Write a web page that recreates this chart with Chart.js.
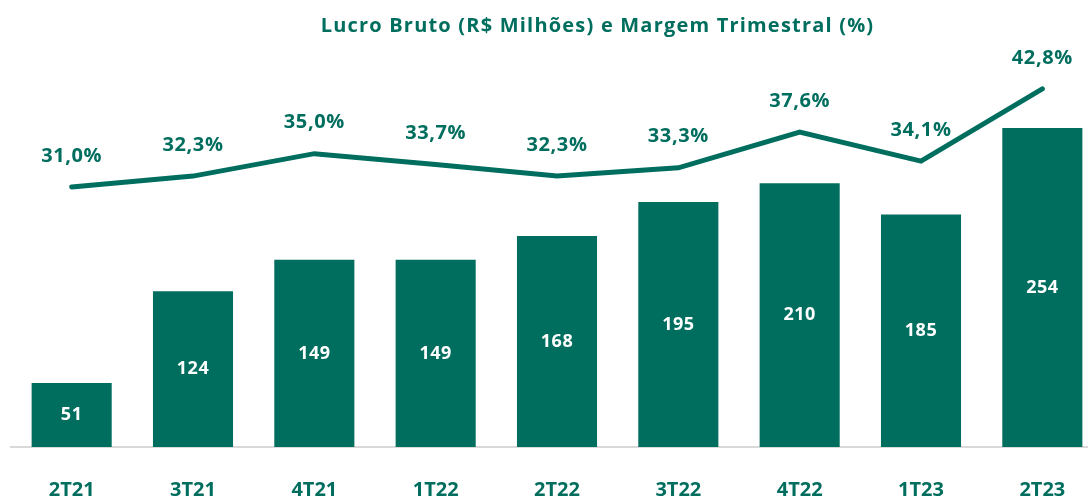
<!DOCTYPE html>
<html>
<head>
<meta charset="utf-8">
<script src="https://cdn.jsdelivr.net/npm/chart.js@4"></script>
<style>
  html, body { margin: 0; padding: 0; background: #fff; overflow: hidden; }
  #wrap { position: relative; width: 1103px; height: 499px; }
  #title {
    position: absolute; left: 0; width: 1195px; top: 11px; text-align: center;
    font: 700 20px "Open Sans", sans-serif; letter-spacing: 1.2px; color: #006e5e;
  }
</style>
</head>
<body>
<div id="wrap">
  <div id="title">Lucro Bruto (R$ Milhões) e Margem Trimestral (%)</div>
  <canvas id="chart" width="1103" height="499"></canvas>
</div>
<script>
// --- Data ---
const quarters = ['2T21', '3T21', '4T21', '1T22', '2T22', '3T22', '4T22', '1T23', '2T23'];
const grossProfit = [51, 124, 149, 149, 168, 195, 210, 185, 254];
const margin = [31.0, 32.3, 35.0, 33.7, 32.3, 33.3, 37.6, 34.1, 42.8];

const green = '#006e5e';
const fontFamily = '"Open Sans", sans-serif';

// pt-BR style number, e.g. 31,0%
function pct(v) {
  return v.toFixed(1).replace('.', ',') + '%';
}

// Draw value labels: inside bars and above line points
const valueLabels = {
  id: 'valueLabels',
  afterDatasetsDraw(chart) {
    const ctx = chart.ctx;
    ctx.save();
    ctx.textAlign = 'center';
    ctx.textBaseline = 'middle';

    const bars = chart.getDatasetMeta(0).data;
    ctx.fillStyle = '#fff';
    ctx.font = '700 18px ' + fontFamily;
    ctx.letterSpacing = '0.5px';
    bars.forEach((bar, i) => {
      ctx.fillText(String(grossProfit[i]), bar.x, (bar.y + bar.base) / 2);
    });

    const pts = chart.getDatasetMeta(1).data;
    ctx.fillStyle = green;
    ctx.font = '700 20px ' + fontFamily;
    ctx.letterSpacing = '0.6px';
    pts.forEach((p, i) => {
      ctx.fillText(pct(margin[i]), p.x, p.y - 31);
    });
    ctx.restore();
  }
};

const chart = new Chart(document.getElementById('chart'), {
  data: {
    labels: quarters,
    datasets: [
      {
        type: 'bar',
        label: 'Lucro Bruto',
        data: grossProfit,
        backgroundColor: green,
        barPercentage: 0.66,
        categoryPercentage: 1,
        yAxisID: 'y',
        order: 2
      },
      {
        type: 'line',
        label: 'Margem',
        data: margin,
        borderColor: green,
        borderWidth: 5,
        borderCapStyle: 'round',
        borderJoinStyle: 'miter',
        pointRadius: 0,
        tension: 0,
        yAxisID: 'y2',
        order: 1
      }
    ]
  },
  options: {
    responsive: false,
    animation: false,
    layout: { padding: { top: 45, left: 11, right: 0, bottom: 0 } },
    plugins: {
      legend: { display: false },
      tooltip: { enabled: false }
    },
    scales: {
      x: {
        grid: { display: false, drawTicks: false },
        border: { display: true, color: '#d9d9d9', width: 2 },
        ticks: {
          color: green,
          padding: 31,
          font: { family: fontFamily, size: 20, weight: '700' }
        },
        afterFit(scale) { scale.height = 52; }
      },
      y: { display: false, min: 0, max: 320 },
      y2: { display: false, min: -0.31, max: 48.08 }
    }
  },
  plugins: [valueLabels]
});
</script>
</body>
</html>
